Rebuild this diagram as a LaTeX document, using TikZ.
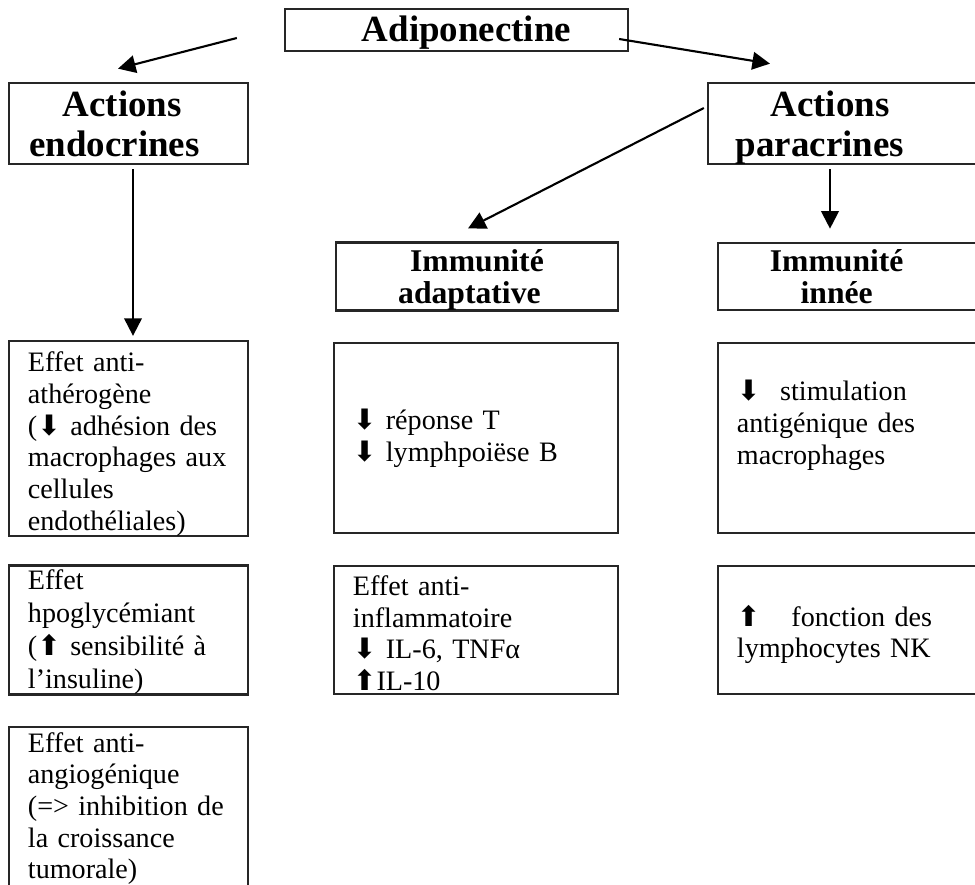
\documentclass[tikz,border=0pt]{standalone}
\usepackage{fontspec}
\setmainfont{Liberation Serif}
\newfontfamily\arrowfont{DejaVu Sans}
\usetikzlibrary{arrows.meta,calc}

\newcommand{\flechebas}{{\arrowfont\fontsize{8}{8}\selectfont ⬇}}
\newcommand{\flechehaut}{{\arrowfont\fontsize{8}{8}\selectfont ⬆}}
\newcommand{\hautligne}[1]{\rule{0pt}{#1}}
\newcommand{\basligne}[1]{\rule[-#1]{0pt}{#1}}

\begin{document}
\begin{tikzpicture}[x=0.01cm, y=-0.01cm, line width=0.6pt,
	titre/.style={draw=black!85, inner sep=0pt, align=center, font=\bfseries\fontsize{10.5}{11.4}\selectfont},
	soustitre/.style={draw=black!85, inner sep=0pt, align=center, font=\bfseries\fontsize{9}{9.2}\selectfont},
	boite/.style={draw=black!85, inner xsep=0.19cm, inner ysep=0pt, align=left, font=\fontsize{8}{9}\selectfont},
	fleche/.style={-{Triangle[length=5pt,width=5pt]}}]

	\useasboundingbox (0,0) rectangle (975,885);
	\clip (0,0) rectangle (975,885);

	% titres
	\node[titre, minimum width=3.43cm, minimum height=0.42cm] (adipo) at (456.5,30) {\hautligne{9pt}\basligne{2.6pt}\hspace*{5.7pt}Adiponectine};
	\node[titre, minimum width=2.39cm, minimum height=0.81cm] (endo) at (128.5,123.5) {\hautligne{9.5pt}Actions\hspace*{3.5pt}\\endocrines\hspace*{8pt}\basligne{2.3pt}};
	\node[titre, minimum width=2.72cm, minimum height=0.81cm] (para) at (844,123.5) {\hautligne{9.5pt}Actions\hspace*{8pt}\\paracrines\hspace*{13.7pt}\basligne{2.3pt}};
	\node[soustitre, minimum width=2.82cm, minimum height=0.67cm] (adapt) at (477,276.5) {\hautligne{8.2pt}Immunité\\adaptative\hspace*{4.3pt}\basligne{1.8pt}};
	\node[soustitre, minimum width=2.62cm, minimum height=0.67cm] (innee) at (849,276.5) {\hautligne{8.2pt}Immunité\hspace*{7pt}\\innée\hspace*{7pt}\basligne{1.8pt}};

	% actions endocrines
	\node[boite, text width=2.01cm, minimum height=1.93cm] (athero) at (128.5,438.5) {\hautligne{8.8pt}Effet anti-\\athérogène\\(\flechebas{} adhésion des\\macrophages aux\\cellules\\endothéliales)};
	\node[boite, text width=2.01cm, minimum height=1.28cm, font=\fontsize{8}{9.4}\selectfont] (hypo) at (128.5,630) {\hautligne{6.8pt}Effet\\hpoglycémiant\\(\flechehaut{} sensibilité à\\l’insuline)};
	\node[boite, text width=2.01cm, minimum height=1.63cm] (angio) at (128.5,808.5) {Effet anti-\\angiogénique\\(=> inhibition de\\la croissance\\tumorale)};

	% immunite adaptative
	\node[boite, text width=2.46cm, minimum height=1.90cm] (reponse) at (476,438) {\flechebas{} réponse T\\\flechebas{} lymphpoiëse B};
	\node[boite, text width=2.46cm, minimum height=1.28cm] (inflam) at (476,630) {\hautligne{7.5pt}Effet anti-\\inflammatoire\\\flechebas{} IL-6, TNFα\\\flechehaut{}IL-10};

	% immunite innee
	\node[boite, text width=2.24cm, minimum height=1.90cm] (stim) at (849,438) {\flechebas{}\hspace{0.7em}stimulation\\antigénique des\\macrophages\\\mbox{}};
	\node[boite, text width=2.24cm, minimum height=1.28cm] (nk) at (849,630) {\hautligne{8.5pt}\flechehaut{}\hspace{1.1em}fonction des\\lymphocytes NK};

	% fleches
	\draw[fleche] ($(adipo.west)+(-47,8)$) -- ($(endo.north)+(-10.5,-13)$);
	\draw[fleche] ($(adipo.east)+(-10,9)$) -- ($(para.north)+(-74,-18)$);
	\draw[fleche] ($(para.west)+(-3,-15.5)$) -- ($(adapt.north)+(-9,-13)$);
	\draw[fleche] ($(endo.south)+(4.5,4)$) -- ($(athero.north)+(4.5,-4)$);
	\draw[fleche] ($(para.south)+(-14,4)$) -- ($(innee.north)+(-19,-13)$);
\end{tikzpicture}
\end{document}
